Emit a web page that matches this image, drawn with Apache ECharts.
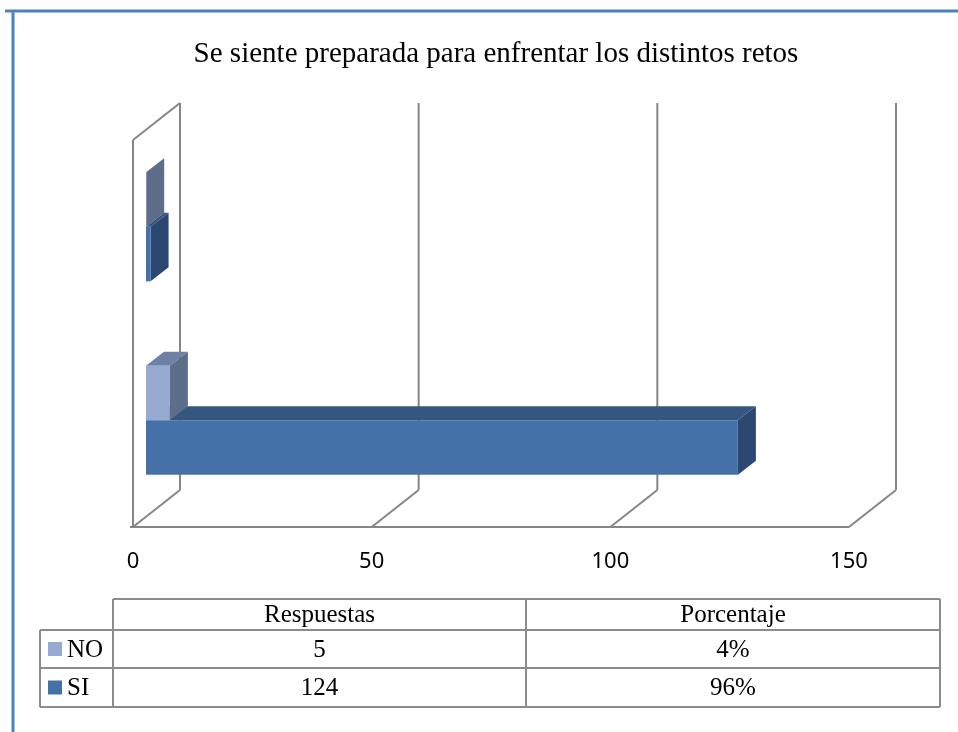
<!DOCTYPE html>
<html>
<head>
<meta charset="utf-8">
<script src="https://cdn.jsdelivr.net/npm/echarts@6/dist/echarts.min.js"></script>
<style>html,body{margin:0;padding:0;background:#fff;}#c{width:958px;height:732px;}</style>
</head>
<body>
<div id="c"></div>
<script>
// ---- data ----
const titleText = 'Se siente preparada para enfrentar los distintos retos';
const categories = ['Respuestas', 'Porcentaje'];
const seriesNames = ['NO', 'SI'];
const noValues = [5, 0.04];
const siValues = [124, 0.96];
const tickValues = [0, 50, 100, 150];

// ---- style ----
const FRONT = [13, -10];   // bar front plane offset from wall front
const DEPTH = [18, -14];   // bar depth
const WALL = [47, -37];    // wall depth
const GRID_COLOR = '#868686';
const colorsNO = { front: '#95a9d1', top: '#6e80a3', side: '#5e6d8a' };
const colorsSI = { front: '#4471a8', top: '#35577f', side: '#2c4870' };

function barRenderer(pos, col) {
  return function (params, api) {
    const v = api.value(0), c = api.value(1);
    const p0 = api.coord([0, c]);
    const p1 = api.coord([v, c]);
    const band = api.size([0, 1])[1];
    const t = band * 0.282;
    const yTop = pos === 0 ? p0[1] - t : p0[1];
    const x0 = p0[0] + FRONT[0], x1 = p1[0] + FRONT[0];
    const y0 = yTop + FRONT[1], y1 = yTop + t + FRONT[1];
    const dx = DEPTH[0], dy = DEPTH[1];
    return {
      type: 'group',
      children: [
        { type: 'polygon', shape: { points: [[x0, y0], [x1, y0], [x1 + dx, y0 + dy], [x0 + dx, y0 + dy]] }, style: { fill: col.top } },
        { type: 'polygon', shape: { points: [[x1, y0], [x1 + dx, y0 + dy], [x1 + dx, y1 + dy], [x1, y1]] }, style: { fill: col.side } },
        { type: 'rect', shape: { x: x0, y: y0, width: Math.max(x1 - x0, 0.3), height: t }, style: { fill: col.front } }
      ]
    };
  };
}

function gridRenderer(params, api) {
  const v = api.value(0);
  const cs = params.coordSys;
  const x = api.coord([v, 0])[0];
  const yb = cs.y + cs.height, yt = cs.y;
  const ls = { stroke: GRID_COLOR, lineWidth: 2 };
  const ch = [
    { type: 'line', shape: { x1: x + WALL[0], y1: yb + WALL[1], x2: x + WALL[0], y2: yt + WALL[1] }, style: ls },
    { type: 'line', shape: { x1: x, y1: yb, x2: x + WALL[0], y2: yb + WALL[1] }, style: ls }
  ];
  if (params.dataIndex === 0) {
    ch.push({ type: 'line', shape: { x1: x, y1: yb, x2: x, y2: yt }, style: ls });
    ch.push({ type: 'line', shape: { x1: x, y1: yt, x2: x + WALL[0], y2: yt + WALL[1] }, style: ls });
    const xe = api.coord([tickValues[tickValues.length - 1], 0])[0];
    ch.push({ type: 'line', shape: { x1: x - 3, y1: yb, x2: xe, y2: yb }, style: ls });
  }
  return { type: 'group', children: ch };
}

// ---- data table (graphic) ----
const TL = { left: 40, c0: 113, c1: 526, c2: 940, yH: 599, y1: 630, y2: 668, y3: 707 };
const tableFont = { fontFamily: 'Liberation Serif', fontSize: 25, fill: '#000' };
const tLine = { stroke: '#8c8c8c', lineWidth: 2 };
function fmtPct(v) { return Math.round(v * 100) + '%'; }
const rows = [
  { name: seriesNames[0], vals: noValues, color: colorsNO.front },
  { name: seriesNames[1], vals: siValues, color: colorsSI.front }
];
const g = [];
// outer blue frame
g.push({ type: 'line', shape: { x1: 5, y1: 11, x2: 958, y2: 11 }, style: { stroke: '#4f81bd', lineWidth: 3 } });
g.push({ type: 'line', shape: { x1: 13, y1: 10, x2: 13, y2: 732 }, style: { stroke: '#4f81bd', lineWidth: 3 } });
// table lines
g.push({ type: 'line', shape: { x1: TL.c0, y1: TL.yH, x2: TL.c2, y2: TL.yH }, style: tLine });
[TL.y1, TL.y2, TL.y3].forEach(y => g.push({ type: 'line', shape: { x1: TL.left, y1: y, x2: TL.c2, y2: y }, style: tLine }));
g.push({ type: 'line', shape: { x1: TL.left, y1: TL.y1, x2: TL.left, y2: TL.y3 }, style: tLine });
[TL.c0, TL.c1, TL.c2].forEach(x => g.push({ type: 'line', shape: { x1: x, y1: TL.yH, x2: x, y2: TL.y3 }, style: tLine }));
// header
const colCenters = [(TL.c0 + TL.c1) / 2, (TL.c1 + TL.c2) / 2];
categories.forEach((cname, i) => g.push({ type: 'text', x: colCenters[i], y: (TL.yH + TL.y1) / 2 + 1, style: Object.assign({ text: cname, textAlign: 'center', textVerticalAlign: 'middle' }, tableFont) }));
const rowY = [[TL.y1, TL.y2], [TL.y2, TL.y3]];
rows.forEach((r, ri) => {
  const cy = (rowY[ri][0] + rowY[ri][1]) / 2;
  g.push({ type: 'rect', shape: { x: 48, y: cy - 7, width: 14, height: 14 }, style: { fill: r.color } });
  g.push({ type: 'text', x: 67, y: cy + 1, style: Object.assign({ text: r.name, textAlign: 'left', textVerticalAlign: 'middle' }, tableFont) });
  g.push({ type: 'text', x: colCenters[0], y: cy + 1, style: Object.assign({ text: String(r.vals[0]), textAlign: 'center', textVerticalAlign: 'middle' }, tableFont) });
  g.push({ type: 'text', x: colCenters[1], y: cy + 1, style: Object.assign({ text: fmtPct(r.vals[1]), textAlign: 'center', textVerticalAlign: 'middle' }, tableFont) });
});

const chart = echarts.init(document.getElementById('c'), null, { renderer: 'canvas' });
chart.setOption({
  animation: false,
  backgroundColor: '#fff',
  title: {
    text: titleText, left: 491, top: 35, textAlign: 'center',
    textStyle: { fontFamily: 'Liberation Serif', fontSize: 29, fontWeight: 'normal', color: '#000' }
  },
  grid: { left: 133, right: 109, top: 140, bottom: 205, containLabel: false },
  xAxis: {
    type: 'value', min: 0, max: 150, interval: 50,
    axisLine: { show: false }, axisTick: { show: false }, splitLine: { show: false },
    axisLabel: { margin: 24, color: '#000', fontFamily: 'Noto Sans', fontSize: 22 }
  },
  yAxis: {
    type: 'category', data: categories,
    axisLine: { show: false }, axisTick: { show: false }, axisLabel: { show: false }, splitLine: { show: false }
  },
  graphic: g,
  series: [
    { type: 'custom', name: 'grid', z: 1, silent: true, renderItem: gridRenderer, data: tickValues.map(v => [v, 0]), clip: false },
    { type: 'custom', name: seriesNames[1], z: 2, renderItem: barRenderer(1, colorsSI), itemStyle: { color: colorsSI.front }, data: siValues.map((v, i) => [v, i]), clip: false },
    { type: 'custom', name: seriesNames[0], z: 3, renderItem: barRenderer(0, colorsNO), itemStyle: { color: colorsNO.front }, data: noValues.map((v, i) => [v, i]), clip: false }
  ]
});
</script>
</body>
</html>
